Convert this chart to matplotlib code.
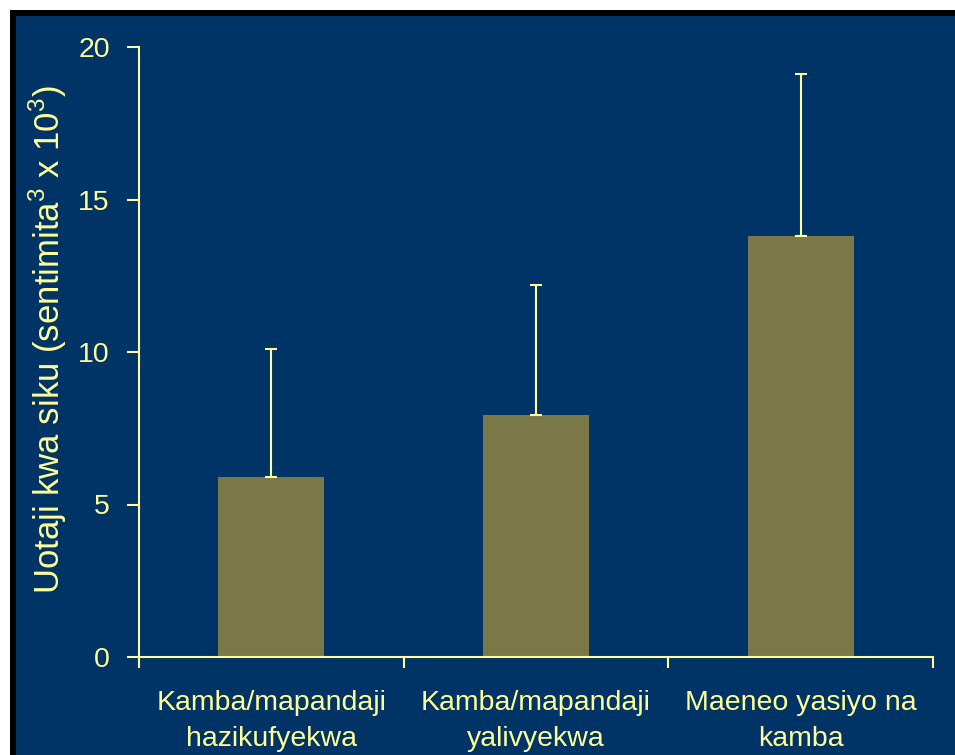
import matplotlib
matplotlib.use('Agg')
import matplotlib.pyplot as plt
from matplotlib.patches import Rectangle

categories = ['Kamba/mapandaji\nhazikufyekwa', 'Kamba/mapandaji\nyalivyekwa', 'Maeneo yasiyo na\nkamba']
means = [5.9, 7.95, 13.8]
errors = [4.2, 4.25, 5.3]

navy = '#003366'
pale = '#FFFF99'
olive = '#7A7846'

plt.rcParams['font.family'] = ['Liberation Sans', 'DejaVu Sans']
plt.rcParams['mathtext.fontset'] = 'custom'
plt.rcParams['mathtext.rm'] = 'Liberation Sans'

fig = plt.figure(figsize=(9.55, 7.55), dpi=100, facecolor='white')
# slide frame: black border and navy panel, kept behind the axes
fig.patches.append(Rectangle((10 / 955, 0), 1, 745 / 755, transform=fig.transFigure,
                             facecolor='black', edgecolor='none', zorder=-10))
fig.patches.append(Rectangle((16 / 955, 0), 1, 739 / 755, transform=fig.transFigure,
                             facecolor=navy, edgecolor='none', zorder=-9))

ax = fig.add_axes([139 / 955, 98 / 755, 794 / 955, 610 / 755])
ax.set_facecolor('none')
ax.set_zorder(1)

x = list(range(len(categories)))
ax.bar(x, means, width=0.4, color=olive, zorder=2)
ax.errorbar(x, means, yerr=[[0] * len(errors), errors], fmt='none',
            ecolor=pale, elinewidth=1.5, capsize=4.6, capthick=1.5, zorder=3)

ax.set_xlim(-0.5, 2.5)
ax.set_ylim(0, 20)
ax.set_yticks([0, 5, 10, 15, 20])

ax.set_xticks(x)
ax.set_xticklabels(categories, fontsize=20.5, color=pale, linespacing=1.5)
ax.set_xticks([-0.5, 0.5, 1.5, 2.5], minor=True)
ax.tick_params(axis='x', which='major', length=0, pad=24)
ax.tick_params(axis='x', which='minor', length=8, width=1.5, color=pale, direction='out')
ax.tick_params(axis='y', length=9, width=1.5, color=pale, labelcolor=pale,
               labelsize=20.5, pad=12)

for side in ['top', 'right']:
    ax.spines[side].set_visible(False)
for side in ['left', 'bottom']:
    ax.spines[side].set_color(pale)
    ax.spines[side].set_linewidth(1.5)

ax.set_ylabel('Uotaji kwa siku (sentimita$^3$ x 10$^3$)', fontsize=25, color=pale)
ax.yaxis.set_label_coords(-0.088, 0.52)

fig.savefig('out.png', dpi=100, facecolor='white')
